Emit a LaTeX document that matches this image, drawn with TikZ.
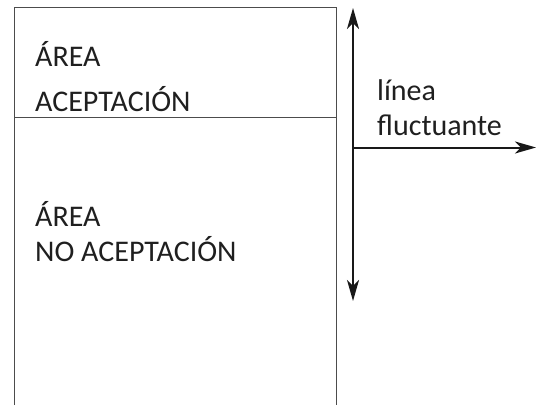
\documentclass[tikz,border=0pt]{standalone}
\usepackage{fontspec}
\setmainfont{Carlito}
\usetikzlibrary{arrows.meta}
\begin{document}
\begin{tikzpicture}[x=1pt,y=1pt,
  lbl/.style={anchor=base west, inner sep=0pt, font=\fontsize{30}{31}\selectfont, text=black!88},
  box/.style={draw=black!70, line width=1pt},
  arr/.style={draw=black!90, line width=2pt, -{Stealth[length=21pt,width=12pt,inset=6pt]}}]
\useasboundingbox (0,0) rectangle (540,405);
% box
\coordinate (bl) at (14,0);
\coordinate (tl) at (14,397);
\coordinate (tr) at (336,397);
\coordinate (br) at (336,0);
\coordinate (ml) at (14,287);
\coordinate (mr) at (336,287);
\draw[box] (bl) -- (tl) -- (tr) -- (br);
\draw[box] (ml) -- (mr);
% texts
\node[lbl] (a1) at (35,338) {ÁREA};
\node[lbl] (a2) at (35,294) {ACEPTACIÓN};
\node[lbl] (b1) at (35,179) {ÁREA};
\node[lbl] (b2) at (35,144) {NO ACEPTACIÓN};
\node[lbl] (l1) at (377,305) {línea};
\node[lbl] (l2) at (377,270) {fluctuante};
% arrows
\coordinate (vc) at (353,257.5);
\coordinate (vt) at (353,397);
\coordinate (vb) at (353,104);
\coordinate (ht) at (536,257.5);
\draw[arr] (vc) -- (vt);
\draw[arr] (vc) -- (vb);
\draw[arr] (vc) -- (ht);
\end{tikzpicture}
\end{document}
